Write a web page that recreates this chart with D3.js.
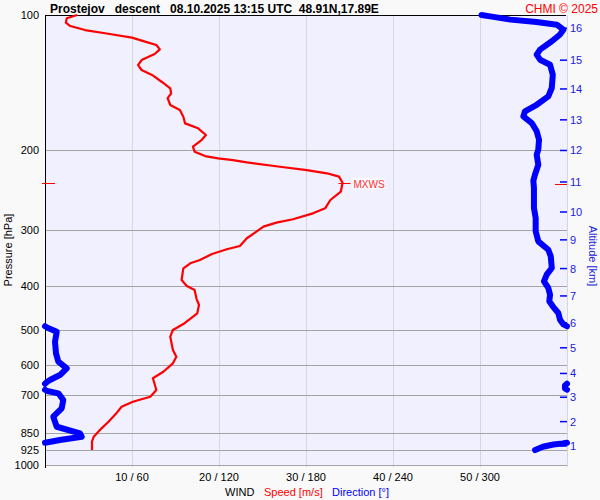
<!DOCTYPE html>
<html><head><meta charset="utf-8">
<script src="https://cdn.jsdelivr.net/npm/d3@7"></script>
<style>body{margin:0;background:#f9f9f9;}svg{display:block;font-family:"Liberation Sans",Arial,sans-serif;}</style>
</head><body><svg id="c" width="600" height="500"></svg>
<script>
// ---- data ----
const pressureTicks = [100,200,300,400,500,600,700,850,925,1000];
const speedTicks = [10,20,30,40,50];
const dirTicks = [60,120,180,240,300];
const altitudeKm = [1,2,3,4,5,6,7,8,9,10,11,12,13,14,15,16];
const altitudePressure = [907,801,707,626,549,483,421,366,316,274,235,200,171,146,126,107];

const speedPressure = [100,101.7,104,105.8,108,109.8,112.3,114.6,116.6,119.2,122.1,125.9,129.2,132.5,135.9,140.7,145.5,149.3,153.1,158.5,162.6,168.3,174.1,178.6,184.8,189.6,196.2,201.3,205.8,208.2,210.1,212.5,217.4,221.1,224.8,228.7,235.9,247,257.7,268.9,275.9,284.4,289.4,295.3,303,313.4,326,331.6,339.7,350.3,356.3,365.5,388,400.1,408.4,426.2,441,460.2,486.1,501.2,518.6,555.2,574.6,594.3,620.4,641.7,681.3,705.1,723.4,742.2,767.7,801.5,828.9,865.3,887.7,926.3];
const speedValues = [3.7,2.5,2.4,2.9,4.6,6.9,10.0,11.5,12.8,13.2,12.6,11.1,10.7,11.1,12.3,13.4,14.4,14.5,14.1,14.4,15.5,15.9,16.1,17.6,18.5,18.0,17.0,17.2,18.4,19.9,21.6,23.2,27.0,30.1,32.4,33.8,34.2,34.0,32.8,32.2,30.8,28.5,26.6,25.1,24.3,23.2,22.4,20.9,19.2,17.8,16.7,15.9,15.7,16.3,17.2,17.4,17.7,17.5,15.9,14.7,14.4,14.7,15.1,14.7,13.6,12.4,12.8,12.1,10.1,8.8,8.2,7.3,6.5,5.6,5.4,5.4];

const dirPressure = [100,100.7,102.4,103.6,105.1,107.8,110.6,114.4,119.4,122.5,125.7,129,135.7,145.3,151.6,158.3,163.7,168,173.8,181.3,189.3,199.2,204.4,215.1,226.4,233.4,242.3,268.5,282.6,302.4,318.4,332.3,343.8,364.9,377.6,390.6,404.2,418.3,432.7,444,459.5,475.5,486.1,496.1,505.6,532.1,564.9,589.4,609.7,631,647.4,653,665.8,676.1,684.8,693,717.2,748.2,781.2,822.2,850.5,865.3,880,891.3,895.9,900.5,910.8,926.3];
const dirValues = [301,307,321,339,353,357.5,355,349.5,341.4,339.1,341.4,348.3,350.2,349.5,347.1,339.1,331,329.9,335.7,339.1,340.7,340.2,339.1,340.2,337.9,336.8,337.2,337.2,338.4,338.4,340.2,347.1,348.8,349.5,346,344.1,347.1,348.3,347.8,350.2,354,355.2,357.3,2.1,8.1,6.9,7.6,9.2,15,10.3,3.4,1.5,358.6,358.6,1.5,9.2,12.6,11.5,5.7,8.1,24.1,25.3,10.3,1.0,357,350.6,343.4,338];

const mxwsPressure = 235.9;
const mxwsSpeed = 34.2;

const titleText = "Prostejov   descent   08.10.2025 13:15 UTC  48.91N,17.89E";
const creditText = "CHMI \u00a9 2025";

// ---- scales ----
const svg = d3.select("#c");
const L = 45, R = 567, T = 15, B = 465;
const y = d3.scaleLog().domain([100,1000]).range([T,B]);
const xs = d3.scaleLinear().domain([0,60]).range([L,R]);
const xd = d3.scaleLinear().domain([0,360]).range([L,R]);

svg.append("rect").attr("width",600).attr("height",500).attr("fill","#f9f9f9");
svg.append("rect").attr("x",L).attr("y",T).attr("width",R-L).attr("height",B-T).attr("fill","#f0f0ff");

// vertical grid
svg.append("g").selectAll("line").data(speedTicks.concat([60])).join("line")
  .attr("x1",d=>xs(d)).attr("x2",d=>xs(d)).attr("y1",T).attr("y2",B+2)
  .attr("stroke","#d6d6de").attr("stroke-width",1).attr("shape-rendering","crispEdges");
// horizontal grid
svg.append("g").selectAll("line").data(pressureTicks.filter(p=>p>100)).join("line")
  .attr("x1",L).attr("x2",R).attr("y1",d=>Math.round(y(d))+0.5).attr("y2",d=>Math.round(y(d))+0.5)
  .attr("stroke","#a4a4a4").attr("stroke-width",1);
// top border & left axis
svg.append("line").attr("x1",L).attr("x2",R-1).attr("y1",T+0.5).attr("y2",T+0.5).attr("stroke","#000");
svg.append("line").attr("x1",L+0.5).attr("x2",L+0.5).attr("y1",T).attr("y2",B+3).attr("stroke","#000");

// left tick labels
svg.append("g").selectAll("text").data(pressureTicks).join("text")
  .attr("x",39).attr("y",d=>y(d)+4).attr("text-anchor","end").attr("font-size",11).attr("fill","#000").text(d=>d);
svg.append("text").attr("transform","translate(12,250) rotate(-90)").attr("text-anchor","middle")
  .attr("font-size",11).attr("fill","#000").text("Pressure [hPa]");

// bottom tick labels
svg.append("g").selectAll("text").data(speedTicks).join("text")
  .attr("x",d=>xs(d)).attr("y",481).attr("text-anchor","middle").attr("font-size",11).attr("fill","#000")
  .text((d,i)=>d+" / "+dirTicks[i]);
const leg = svg.append("text").attr("y",496).attr("font-size",11);
leg.append("tspan").attr("x",225).attr("fill","#000").text("WIND");
leg.append("tspan").attr("x",264).attr("fill","#ff0000").text("Speed [m/s]");
leg.append("tspan").attr("x",332).attr("fill","#0000ff").text("Direction [\u00b0]");

// altitude axis
const alt = svg.append("g");
alt.selectAll("line").data(altitudeKm).join("line")
  .attr("x1",560).attr("x2",567).attr("y1",(d,i)=>y(altitudePressure[i])).attr("y2",(d,i)=>y(altitudePressure[i]))
  .attr("stroke","#0000ff").attr("stroke-width",1.5);
alt.selectAll("text").data(altitudeKm).join("text")
  .attr("x",570).attr("y",(d,i)=>y(altitudePressure[i])+4).attr("font-size",11).attr("fill","#2020e0").text(d=>d);
svg.append("text").attr("transform","translate(589,256) rotate(90)").attr("text-anchor","middle")
  .attr("font-size",11).attr("fill","#2020e0").text("Altitude [km]");

// direction line with wrap-around splitting
const dirPts = dirPressure.map((p,i)=>({p, d:dirValues[i]}));
const segs = [[]];
for (let i=0;i<dirPts.length;i++){
  const cur = dirPts[i];
  if (i>0){
    const prev = dirPts[i-1];
    const diff = cur.d - prev.d;
    if (Math.abs(diff) > 180){
      const cd = diff > 0 ? cur.d - 360 : cur.d + 360;
      const edgeA = diff > 0 ? 0 : 360;
      const t = (edgeA - prev.d)/(cd - prev.d);
      const ly = Math.log(prev.p) + t*(Math.log(cur.p)-Math.log(prev.p));
      const pm = Math.exp(ly);
      segs[segs.length-1].push({p:pm, d:edgeA});
      segs.push([{p:pm, d:360-edgeA}]);
    }
  }
  segs[segs.length-1].push(cur);
}
const dirLine = d3.line().x(d=>xd(d.d)).y(d=>y(d.p)).curve(d3.curveLinear);
svg.append("g").selectAll("path").data(segs).join("path")
  .attr("d",dirLine).attr("fill","none").attr("stroke","#0000ff").attr("stroke-width",6)
  .attr("stroke-linecap","round").attr("stroke-linejoin","round");

// speed line
const spLine = d3.line().x((d,i)=>xs(speedValues[i])).y((d,i)=>y(speedPressure[i])).curve(d3.curveLinear);
svg.append("path").datum(speedPressure).attr("d",spLine).attr("fill","none").attr("stroke","#ff0000")
  .attr("stroke-width",2.2).attr("stroke-linejoin","round");

// MXWS marker
const my = Math.round(y(mxwsPressure))+0.5;
svg.append("line").attr("x1",xs(mxwsSpeed)-4).attr("x2",xs(mxwsSpeed)+8).attr("y1",my).attr("y2",my).attr("stroke","#ff0000");
svg.append("rect").attr("x",xs(mxwsSpeed)+10).attr("y",my-6).attr("width",32).attr("height",12).attr("fill","#fff").attr("opacity",0.6);
svg.append("text").attr("x",xs(mxwsSpeed)+11).attr("y",my+4).attr("font-size",10).attr("fill","#ff3030").text("MXWS");
svg.append("line").attr("x1",42).attr("x2",55).attr("y1",my).attr("y2",my).attr("stroke","#ff0000");
svg.append("line").attr("x1",555).attr("x2",567).attr("y1",my+1).attr("y2",my+1).attr("stroke","#ff0000");

// title
svg.append("text").attr("x",50).attr("y",13).attr("font-size",12).attr("font-weight","bold").attr("fill","#000")
  .attr("xml:space","preserve").style("white-space","pre").text(titleText);
svg.append("text").attr("x",598).attr("y",13).attr("text-anchor","end").attr("font-size",12).attr("fill","#ff0000").text(creditText);
</script></body></html>
